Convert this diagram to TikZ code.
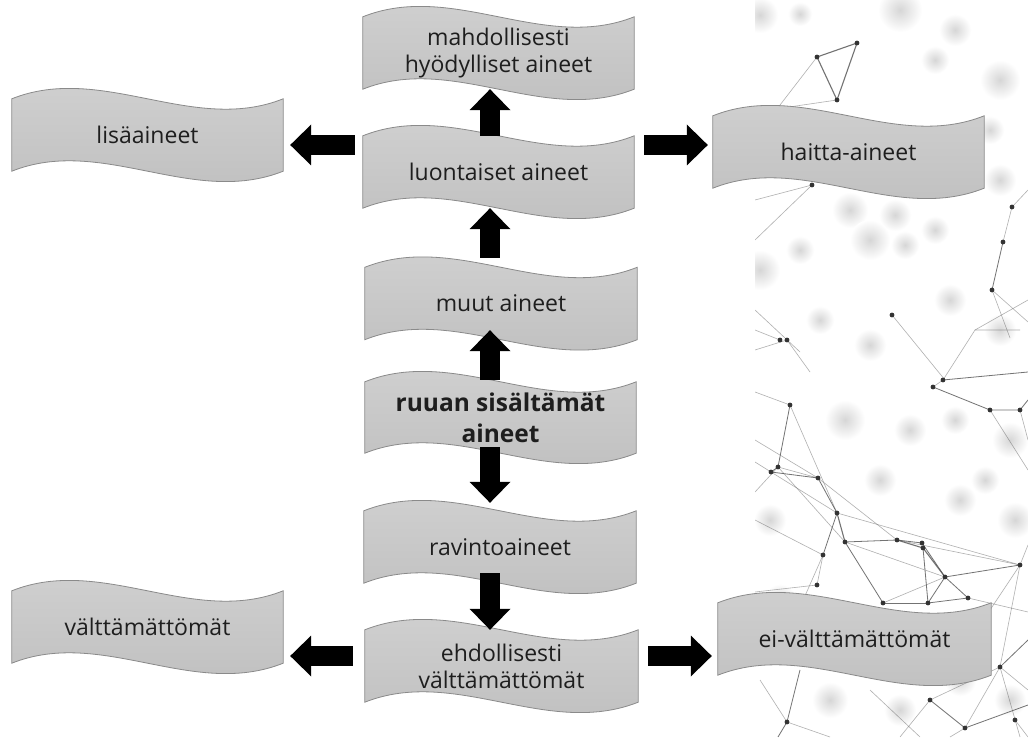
\documentclass[tikz,border=0pt]{standalone}
\usepackage{fontspec}
\setmainfont{Open Sans}
\usetikzlibrary{arrows.meta,calc}
\definecolor{boxtop}{HTML}{D2D2D2}
\definecolor{boxbot}{HTML}{BEBEBE}
\definecolor{boxline}{HTML}{8A8A8A}
\definecolor{txt}{HTML}{1E1E1E}
\definecolor{netline}{HTML}{505050}
\definecolor{netdot}{HTML}{333333}
\pgfdeclarelayer{net}
\pgfdeclarelayer{boxes}
\pgfsetlayers{net,boxes,main}
\newcommand\wavebox[1]{%
  \path[boxstyle] (#1.north west)
    .. controls ($(#1.north west)!1/3!(#1.north east)+(0,36)$) and ($(#1.north west)!2/3!(#1.north east)+(0,-36)$) .. (#1.north east)
    -- (#1.south east)
    .. controls ($(#1.south west)!2/3!(#1.south east)+(0,-36)$) and ($(#1.south west)!1/3!(#1.south east)+(0,36)$) .. (#1.south west)
    -- cycle;}
\begin{document}
\begin{tikzpicture}[x=1pt,y=1pt,
  wbox/.style={rectangle, inner sep=0pt, minimum height=72pt, align=center,
    text=txt, font=\fontsize{23}{27}\selectfont},
  boxstyle/.style={top color=boxtop, bottom color=boxbot, draw=boxline, line width=0.8pt},
  blk/.style={draw=black, line width=20pt, -{Triangle[length=21pt,width=41pt,line width=0pt]}},
  netl/.style={draw=netline, line width=0.8pt, opacity=0.8},
  netf/.style={draw=netline, line width=0.6pt, opacity=0.45},
  netd/.style={fill=netdot}
]
\useasboundingbox (0,0) rectangle (1028,737);

% ---------- nodes ----------
\node[wbox, minimum width=271pt] (mahd)    at (498.5,684) {mahdollisesti\\hyödylliset aineet};
\node[wbox, minimum width=271pt] (luont)   at (498.5,565) {luontaiset aineet};
\node[wbox, minimum width=272pt] (muut)    at (501,433.5) {muut aineet};
\node[wbox, minimum width=271pt, minimum height=71pt, font=\fontsize{24.5}{31}\selectfont\bfseries] (ruuan) at (500.5,319.5) {ruuan sisältämät\\aineet};
\node[wbox, minimum width=272pt] (ravinto) at (500,190) {ravintoaineet};
\node[wbox, minimum width=273pt] (ehd)     at (501.5,71) {ehdollisesti\\välttämättömät};
\node[wbox, minimum width=271pt] (lisa)    at (147.5,602) {lisäaineet};
\node[wbox, minimum width=271pt] (valt)    at (147.5,110) {välttämättömät};
\node[wbox, minimum width=271pt] (haitta)  at (848.5,585) {haitta-aineet};
\node[wbox, minimum width=273pt] (eival)   at (854.5,98) {ei-välttämättömät};

% ---------- wave boxes ----------
\begin{pgfonlayer}{boxes}
\foreach \n in {mahd,luont,muut,ruuan,ravinto,ehd,lisa,valt,haitta,eival}{\wavebox{\n}}
\end{pgfonlayer}

% ---------- connectors ----------
\coordinate (ax) at (490,0);
\coordinate (hy1) at (0,592);
\coordinate (hy2) at (0,81);
\draw[blk] (luont.north -| ax) -- (mahd.south -| ax);
\draw[blk, shorten <=9.5pt] (muut.north -| ax) -- (luont.south -| ax);
\draw[blk, shorten <=2pt, shorten >=-9.5pt] (ruuan.north -| ax) -- (muut.south -| ax);
\draw[blk, shorten <=-6pt, shorten >=8pt] (ruuan.south -| ax) -- (ravinto.north -| ax);
\draw[blk, shorten <=-10pt] (ravinto.south -| ax) -- (ehd.north -| ax);
\draw[blk, shorten <=8pt, shorten >=7pt] (luont.west |- hy1) -- (lisa.east |- hy1);
\draw[blk, shorten <=10pt, shorten >=5pt] (luont.east |- hy1) -- (haitta.west |- hy1);
\draw[blk, shorten <=12pt, shorten >=7pt] (ehd.west |- hy2) -- (valt.east |- hy2);
\draw[blk, shorten <=10pt, shorten >=6pt] (ehd.east |- hy2) -- (eival.west |- hy2);

% ---------- network background ----------
\begin{pgfonlayer}{net}
\fill[white] (0,0) rectangle (1028,737);
\begin{scope}[shift={(0,737)}, yscale=-1]
\begin{scope}
\clip (755,0) rectangle (1028,737);
\foreach \x/\y/\r in {760/15/18,800/14/12,900/10/22,955/30/16,1000/80/20,935/60/14,850/210/18,895/215/16,870/240/20,905/245/14,960/160/16,1000/180/16,760/270/20,820/320/14,870/345/16,950/300/16,1000/330/16,845/420/20,910/430/16,955/420/14,1010/440/18,880/480/16,960/500/16,850/620/16,780/600/16,830/700/18,900/710/16,1010/700/16,960/680/16,790/150/16,990/130/14,860/140/12,1015/520/18,770/520/16,800/250/14,935/230/14,985/480/14}
  {\shade[inner color=black!16, outer color=white] (\x,\y) circle (\r);}
% top cluster
\draw[netl, line width=1.1pt] (817,57) -- (857,43) -- (837,100) -- cycle;
\draw[netf] (770,118) -- (817,57);
\draw[netf] (755,112) -- (837,100);
\draw[netf] (812,185) -- (755,200);
\draw[netf] (812,185) -- (755,240);
\draw[netf] (1012,207) -- (1003,242);
\draw[netl] (1003,242) -- (992,290);
\draw[netf] (992,290) -- (1028,322);
\draw[netf] (992,290) -- (1010,338);
\draw[netf] (1012,207) -- (1028,190);
\draw[netf] (892,315) -- (945,380);
\draw[netf] (755,350) -- (787,340) -- (810,372);
\draw[netf] (755,330) -- (780,340);
\draw[netf] (755,310) -- (800,352);
% right upper
\draw[netl] (943,380) -- (1028,372);
\draw[netl] (933,387) -- (990,410) -- (1020,410) -- (1028,400);
\draw[netf] (943,380) -- (975,330) -- (1020,330);
\draw[netf] (933,387) -- (943,380);
\draw[netf] (1020,410) -- (1028,440);
\draw[netf] (990,410) -- (1028,470);
\draw[netf] (975,330) -- (1028,300);
% middle cluster
\draw[netl] (790,405) -- (778,467);
\draw[netf] (790,405) -- (755,392);
\draw[netf] (790,405) -- (837,513);
\draw[netl] (778,467) -- (771,472);
\draw[netl] (771,472) -- (818,478);
\draw[netf] (778,467) -- (818,478);
\draw[netf] (755,440) -- (818,478);
\draw[netl] (818,478) -- (837,513);
\draw[netf] (771,472) -- (837,513);
\draw[netf] (778,467) -- (845,542);
\draw[netl, line width=1.1pt] (837,513) -- (845,542);
\draw[netl] (837,513) -- (823,555);
\draw[netl] (845,542) -- (897,540) -- (922,543);
\draw[netl, line width=1.1pt] (897,540) -- (923,548) -- (945,577);
\draw[netl] (922,543) -- (945,577);
\draw[netl] (945,577) -- (1020,565);
\draw[netf] (1020,565) -- (1028,545);
\draw[netf] (837,513) -- (1020,565);
\draw[netf] (897,540) -- (1020,565);
\draw[netf] (818,478) -- (897,540);
\draw[netf] (845,542) -- (945,577);
\draw[netf] (823,555) -- (817,585);
\draw[netf] (817,585) -- (755,592);
\draw[netf] (755,520) -- (823,555);
\draw[netl] (845,542) -- (883,603);
\draw[netl] (883,603) -- (928,603);
\draw[netl] (928,603) -- (923,548);
\draw[netf] (883,603) -- (945,577);
\draw[netl] (928,603) -- (945,577);
\draw[netl] (928,603) -- (968,598) -- (945,577);
\draw[netf] (968,598) -- (1028,612);
\draw[netf] (771,472) -- (755,462);
\draw[netf] (778,467) -- (755,492);
\draw[netf] (823,555) -- (790,630);
\draw[netf] (1020,565) -- (1000,667);
\draw[netf] (1020,565) -- (990,610);
% bottom
\draw[netl] (1000,667) -- (1028,640);
\draw[netf] (1000,667) -- (1028,690);
\draw[netf] (1000,667) -- (965,728);
\draw[netf] (1000,667) -- (1020,737);
\draw[netl] (800,670) -- (787,722) -- (778,737);
\draw[netf] (787,722) -- (830,737);
\draw[netf] (787,722) -- (760,680);
\draw[netf] (870,690) -- (920,737);
\draw[netl] (965,728) -- (1028,705);
\draw[netf] (965,728) -- (950,737);
\draw[netl] (930,700) -- (965,728);
\draw[netf] (930,700) -- (900,737);
\draw[netf] (930,700) -- (1000,667);
\draw[netf] (1015,720) -- (1028,737);
% dots
\foreach \p in {(817,57),(857,43),(837,100),(812,185),(1012,207),(1003,242),(992,290),(892,315),(780,340),(787,340),(933,387),(943,380),(990,410),(1020,410),(790,405),(778,467),(771,472),(818,478),(837,513),(845,542),(823,555),(897,540),(922,543),(923,548),(945,577),(1020,565),(883,603),(928,603),(968,598),(817,585),(1000,667),(787,722),(965,728),(930,700),(1015,720)}
  {\fill[netd] \p circle (2.4);}
\end{scope}
\end{scope}
\end{pgfonlayer}
\end{tikzpicture}
\end{document}
